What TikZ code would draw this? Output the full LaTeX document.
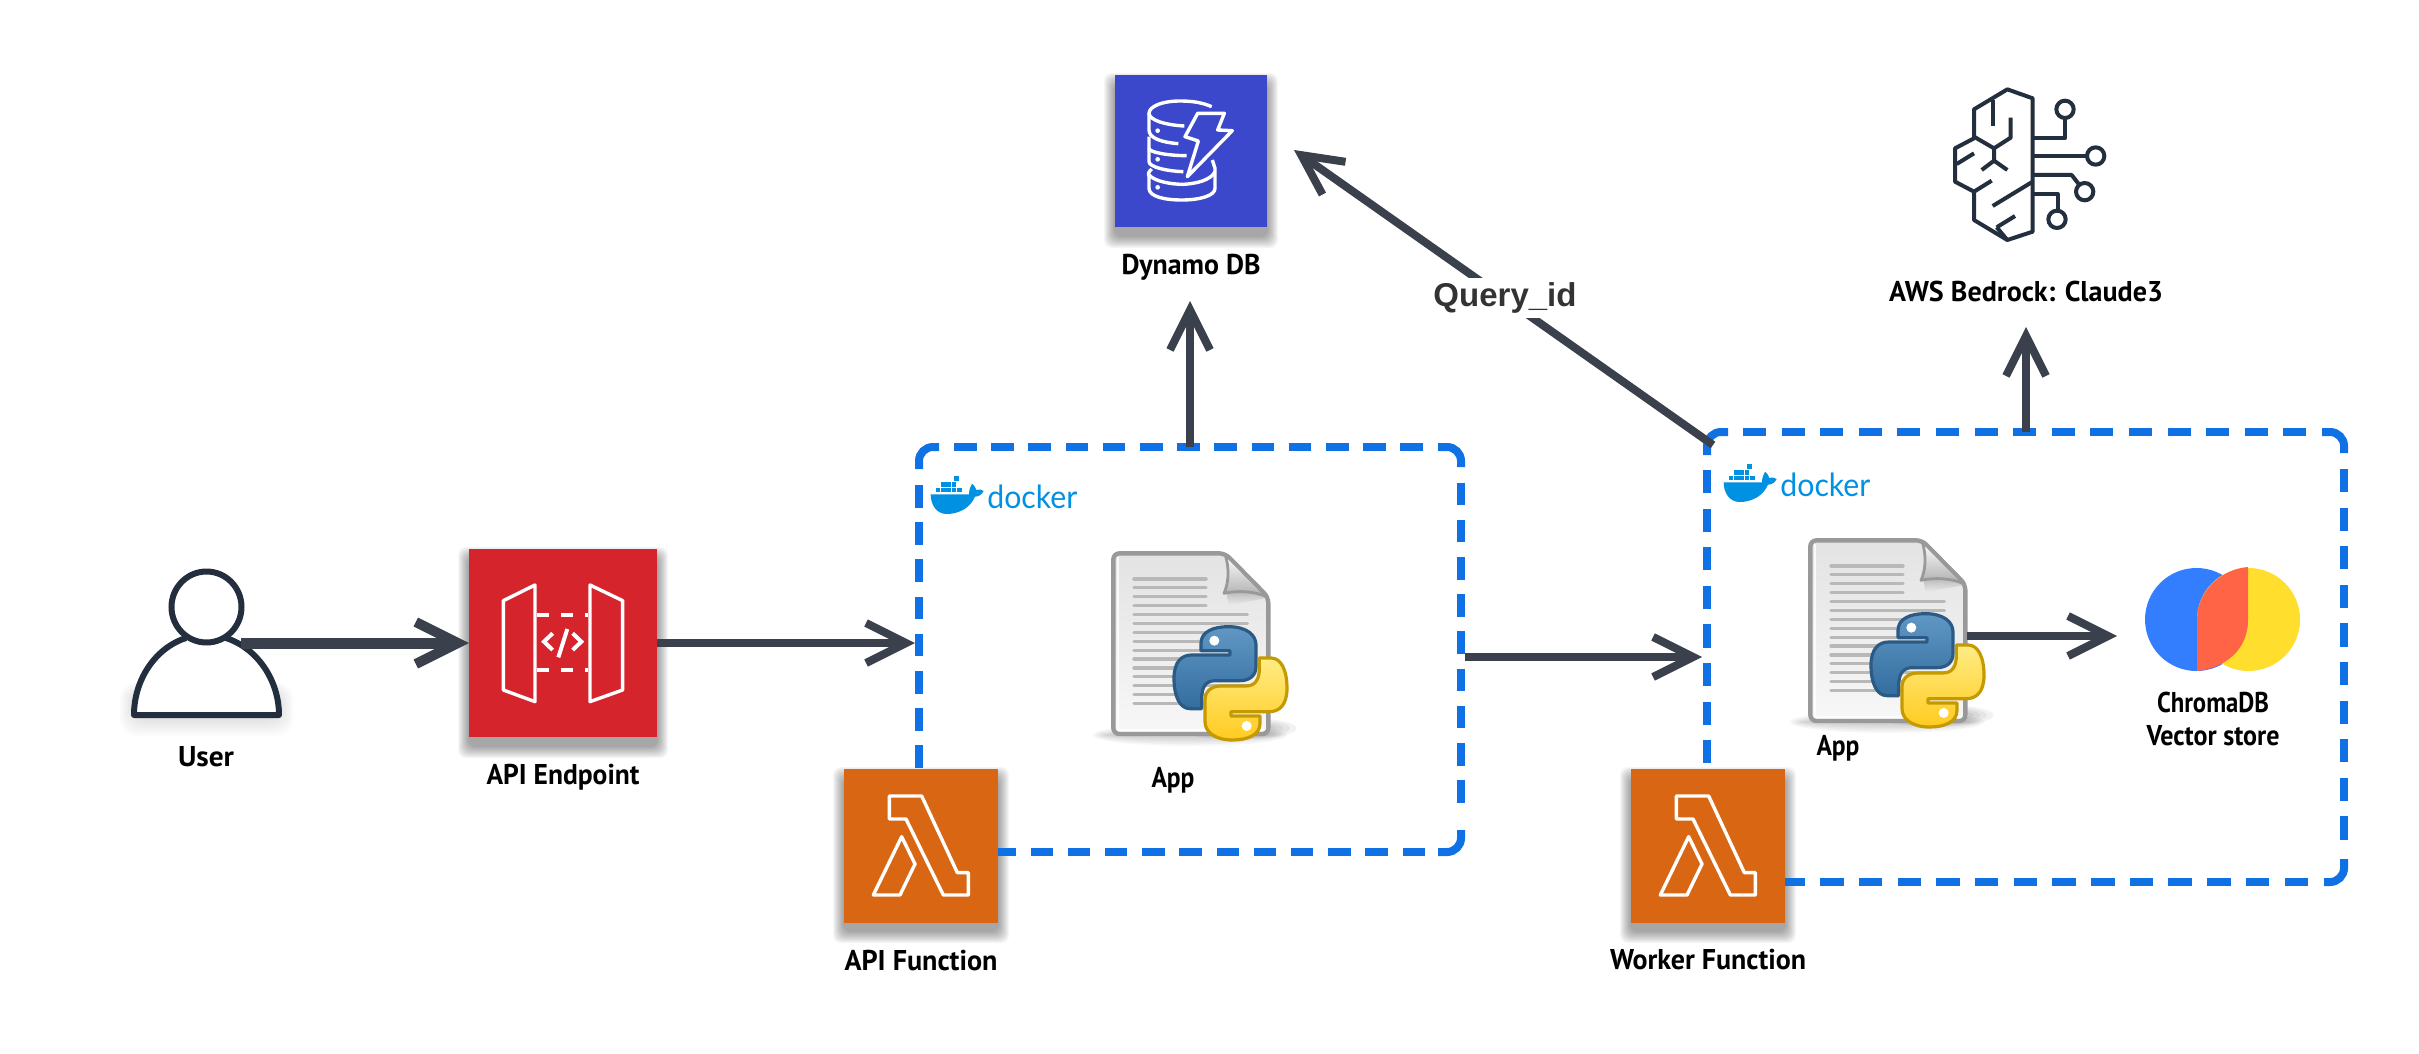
\documentclass[tikz,border=0pt]{standalone}
\usepackage{fontspec}
\usepackage{graphicx}
\setmainfont{PT Sans}
\newfontfamily\latofont{Lato}
\newfontfamily\qfont{Liberation Sans}
\usetikzlibrary{arrows.meta,calc}
\definecolor{linec}{HTML}{3A414C}
\definecolor{dashc}{HTML}{1071E5}
\definecolor{apired}{HTML}{D6242D}
\definecolor{lamorange}{HTML}{D86613}
\definecolor{dynblue}{HTML}{3B48CC}
\definecolor{inkc}{HTML}{232F3E}
\definecolor{dockc}{HTML}{0091E2}
\definecolor{chromaB}{HTML}{327EFF}
\definecolor{chromaY}{HTML}{FFDE2D}
\definecolor{chromaR}{HTML}{FF6446}
\definecolor{pyblueA}{HTML}{6097C4}
\definecolor{pyblueB}{HTML}{336E9F}
\definecolor{pyblueC}{HTML}{2B5B84}
\definecolor{pyyelA}{HTML}{FFEC85}
\definecolor{pyyelB}{HTML}{FFCB20}
\definecolor{pyyelC}{HTML}{C49A00}
\tikzset{
  arr/.style={line width=4pt,color=linec,-{Straight Barb[length=20pt,width=20pt,line width=4pt]}},
  arrthick/.style={line width=5.5pt,color=linec,-{Straight Barb[length=21pt,width=21pt,line width=5pt]}},
  framesolid/.style={draw=dashc,line width=4pt,rounded corners=7pt},
  dashone/.style={draw=dashc,line width=4pt,dash pattern=on 11.25pt off 7.35pt},
  dashtwo/.style={draw=dashc,line width=4pt,dash pattern=on 11.6pt off 7.7pt},
  awsbox/.style={inner sep=0pt,outer sep=0pt,draw=none},
  lab/.style={anchor=base,inner sep=0pt,text=black,font=\bfseries\fontsize{14.3}{15}\selectfont},
  glyph/.style={draw=white,line width=1.7pt,line join=round,line cap=round},
  brain/.style={draw=inkc,line width=2pt,line join=round,line cap=butt},
}
\newcommand{\softshadow}[4]{%
  \foreach \s in {1,2,...,11}{
    \fill[black,opacity=.035,rounded corners=4pt] ({#1-\s},{#2-\s+9}) rectangle ({#3+\s},{#4+1.1*\s+9});
  }}
\newcommand{\lab}[5]{\node[lab] (#1) at (#2,#3) {\resizebox{#4pt}{\height}{#5}};}
\newcommand{\lamicon}[2]{%
  \begin{scope}[shift={(#1,#2)},scale=.33333]
    \draw[glyph] (268,168)--(365,168)--(472,398)--(505,398)--(505,465)--(430,465)--(318,237)--(268,237)--cycle;
    \draw[glyph] (305,290)--(345,372)--(300,465)--(220,465)--cycle;
  \end{scope}}
\newcommand{\dockerlogo}[2]{%
  \begin{scope}[shift={(#1,#2)},scale=.33333]
    \fill[dockc] (17,73)--(132,73) .. controls (132,60) and (136,50) .. (141,41) .. controls (150,48) and (152,55) .. (154,60) .. controls (160,57) and (170,58) .. (176,63) .. controls (170,75) and (160,80) .. (150,80) .. controls (135,115) and (100,132) .. (65,132) .. controls (35,132) and (17,105) .. (17,73) -- cycle;
    \foreach \a in {32,48,64,80,96}{\fill[dockc] (\a,53) rectangle ++(14,14);}
    \foreach \a in {48,64,80}{\fill[dockc] (\a,36) rectangle ++(14,14);}
    \fill[dockc] (88,17) rectangle ++(15,15);
    \node[anchor=base west,inner sep=0pt,text=dockc] at (186,115) {\resizebox{45pt}{\height}{\latofont\fontsize{16}{16}\selectfont docker}};
  \end{scope}}
\newcommand{\pydoc}[2]{%
  \begin{scope}[shift={(#1,#2)},scale=.33333]
    \foreach \s in {1,...,6}{\fill[black,opacity=.03] (870,885) ellipse ({300-8*\s} and {38-5*\s});}
    \foreach \s in {1,...,5}{\fill[black,opacity=.05] (1010,865) ellipse ({200-20*\s} and {38-5*\s});}
    \shade[top color=black!11,bottom color=black!3,draw=black!40,line width=2.2pt,rounded corners=3pt,line join=round]
      (640,340)--(975,340)--(1105,472)--(1105,882)--(640,882)--cycle;
    \draw[white,opacity=.8,line width=1pt] (655,352)--(655,870)--(1092,870);
    \foreach \y in {417,443,469,497}{\draw[black!28,line width=1.7pt,line cap=round] (702,\y)--(918,\y);}
    \foreach \y in {523,550,577,604,631,657,684,710,737,763,790}{\draw[black!28,line width=1.7pt,line cap=round] (702,\y)--(1042,\y);}
    \shade[top color=black!28,bottom color=black!8] (980,462) .. controls (1030,452) and (1070,458) .. (1098,475) -- (985,495) -- cycle;
    \shade[top color=white,bottom color=black!32,draw=black!40,line width=1.4pt,line join=round]
      (975,342) .. controls (990,390) and (985,430) .. (972,460) .. controls (1020,450) and (1070,455) .. (1103,472) -- cycle;
    \shade[top color=pyblueA,bottom color=pyblueB,draw=pyblueC,line width=1.6pt,line join=round]
      (985,560) .. controls (1040,560) and (1068,585) .. (1068,615) -- (1068,680) .. controls (1068,705) and (1050,722) .. (1020,722) -- (945,722) .. controls (915,722) and (905,745) .. (905,775) -- (905,806) -- (870,806) .. controls (840,806) and (822,770) .. (822,715) .. controls (822,665) and (845,645) .. (875,645) -- (990,645) -- (990,632) -- (903,632) -- (903,610) .. controls (903,575) and (940,560) .. (985,560) -- cycle;
    \shade[top color=pyyelA,bottom color=pyyelB,draw=pyyelC,line width=1.6pt,line join=round]
      (998,900) .. controls (943,900) and (915,875) .. (915,845) -- (915,780) .. controls (915,755) and (933,738) .. (963,738) -- (1038,738) .. controls (1068,738) and (1078,715) .. (1078,685) -- (1078,654) -- (1113,654) .. controls (1143,654) and (1161,690) .. (1161,745) .. controls (1161,795) and (1138,815) .. (1108,815) -- (993,815) -- (993,828) -- (1080,828) -- (1080,850) .. controls (1080,885) and (1043,900) .. (998,900) -- cycle;
    \fill[white] (943,602) circle (15);
    \fill[white] (1040,858) circle (15);
  \end{scope}}
\begin{document}
\begin{tikzpicture}[x=0.5pt,y=-0.5pt]
\useasboundingbox (0,0) rectangle (2419,1054);
\fill[white] (0,0) rectangle (2419,1054);

% named end points
\coordinate (userout) at (241,643);
\coordinate (b1west) at (915,643);
\coordinate (b1top) at (1190,447);
\coordinate (dyntip) at (1190,301);
\coordinate (b1east) at (1465,657);
\coordinate (b2west) at (1702,657);
\coordinate (b2corner) at (1713,445);
\coordinate (qtip) at (1294,150);
\coordinate (b2top) at (2026,432);
\coordinate (bedtip) at (2026,327);
\coordinate (appout) at (1967,636);
\coordinate (chromatip) at (2117,636);

% shadows
\softshadow{469}{549}{657}{737}
\softshadow{844}{769}{998}{922}
\softshadow{1631}{769}{1785}{922}
\softshadow{1115}{75}{1267}{227}
\foreach \s in {1,...,7}{\fill[black,opacity=.014,rounded corners=8pt] ({134-2*\s},{690-\s}) rectangle ({279+2*\s},{718+2.5*\s});}
\fill[white] (206.5,607) ellipse (35 and 35.5);
\fill[white] (186,638) .. controls (155,648) and (134,680) .. (134,715) -- (279,715) .. controls (279,680) and (257,648) .. (226,638) -- cycle;

% container frame: left
\draw[framesolid] (919,469)--(919,447)--(939,447);
\draw[dashone] (954,447)--(1425,447);
\draw[framesolid] (1438,447)--(1461,447)--(1461,467);
\draw[dashone] (1461,482.6)--(1461,815);
\draw[framesolid] (1461,830)--(1461,852)--(1438,852);
\draw[dashone] (1425,852)--(990,852);
\draw[dashone] (919,485)--(919,780);
% container frame: right
\draw[framesolid] (1707,455)--(1707,432)--(1728,432);
\draw[dashtwo,dash pattern=on 11.5pt off 7.8pt] (1743,432)--(2306,432);
\draw[framesolid] (2322,432)--(2344,432)--(2344,453);
\draw[dashtwo] (2344,469)--(2344,843);
\draw[framesolid] (2344,859)--(2344,882)--(2324,882);
\draw[dashtwo,dash pattern=on 11.75pt off 7.6pt] (2308,882)--(1780,882);
\draw[dashtwo] (1707,470)--(1707,780);

% squares
\node[awsbox,fill=apired,minimum size=94pt] (api) at (563,643) {};
\node[awsbox,fill=lamorange,minimum size=77pt] (apifn) at (921,845.5) {};
\node[awsbox,fill=lamorange,minimum size=77pt] (workerfn) at (1708,845.5) {};
\node[awsbox,fill=dynblue,minimum size=76pt] (dynamo) at (1191,151) {};

% user icon
\draw[draw=inkc,line width=3pt] (206.5,607) ellipse (35 and 35.5);
\draw[draw=inkc,line width=3pt,line join=round] (186,638) .. controls (155,648) and (134,680) .. (134,715) -- (279,715) .. controls (279,680) and (257,648) .. (226,638);

% python documents, docker logos
\pydoc{900}{440}
\pydoc{1597}{427}
\dockerlogo{925}{470}
\dockerlogo{1718}{458}

% connectors
\draw[arrthick] (userout) -- (api.west);
\draw[arr] (api.east) -- (b1west);
\draw[arr] (b1top) -- (dyntip);
\draw[arr] (b1east) -- (b2west);
\draw[arr] (b2corner) -- (qtip);
\draw[arr] (b2top) -- (bedtip);
\draw[arr] (appout) -- (chromatip);

\node[fill=white,inner xsep=1pt,inner ysep=0pt,minimum height=20pt,text=black!80] (qlabel) at (1505,298) {\qfont\bfseries\fontsize{16.5}{18}\selectfont Query\_id};

% api gateway glyph
\begin{scope}[shift={(460,540)},scale=.33333]
  \draw[glyph] (130,182)--(225,135)--(225,485)--(130,450)--cycle;
  \draw[glyph] (390,135)--(488,182)--(488,450)--(390,485)--cycle;
  \draw[white,line width=2pt,dash pattern=on 6pt off 6pt] (232,226)--(384,226);
  \draw[white,line width=2pt,dash pattern=on 6pt off 6pt] (232,391)--(384,391);
  \draw[white,line width=2pt] (278,280)--(252,305)--(278,330);
  \draw[white,line width=2pt] (338,280)--(364,305)--(338,330);
  \draw[white,line width=2pt] (322,267)--(295,352);
\end{scope}

% lambda glyphs
\lamicon{800}{740}
\lamicon{1587}{740}

% dynamo glyph
\begin{scope}[shift={(1105,65)},scale=.33333]
  \draw[glyph,line cap=butt] (320,125) .. controls (290,112) and (260,108) .. (225,108) .. controls (170,108) and (132,125) .. (132,145) .. controls (132,165) and (180,180) .. (238,183);
  \draw[glyph,line cap=butt] (132,145) -- (132,195) .. controls (132,220) and (170,232) .. (220,236);
  \draw[glyph,line cap=butt] (132,215) -- (132,250) .. controls (132,262) and (190,272) .. (245,272);
  \draw[glyph,line cap=butt] (132,250) -- (132,290) .. controls (132,305) and (180,318) .. (235,320);
  \draw[glyph,line cap=butt] (140,312) .. controls (125,325) and (132,330) .. (132,335) -- (132,370) .. controls (132,395) and (180,405) .. (230,405) .. controls (285,405) and (330,392) .. (330,370) -- (330,310) -- (322,285);
  \draw[glyph,line cap=butt] (132,330) .. controls (150,350) and (200,358) .. (235,358) .. controls (275,356) and (318,345) .. (330,320);
  \draw[glyph] (278,145)--(358,145)--(338,195)--(382,197)--(247,335)--(280,228)--(240,215)--cycle;
  \fill[white] (158,197) circle (7);
  \fill[white] (158,283) circle (7);
  \fill[white] (158,367) circle (7);
\end{scope}

% bedrock glyph
\begin{scope}[shift={(1930,70)},scale=.33333]
  \draw[brain] (308,85)--(232,58)--(132,118)--(132,205)--(75,235)--(75,335)--(132,365)--(132,450)--(232,510)--(308,485)--cycle;
  \draw[brain] (190,90)--(190,168);
  \draw[brain] (242,143)--(242,203)--(192,235)--(132,200);
  \draw[brain] (192,235)--(192,272)--(155,300);
  \draw[brain] (192,272)--(232,300);
  \draw[brain] (80,282)--(132,250);
  \draw[brain] (132,365)--(185,332);
  \draw[brain] (188,408)--(308,335);
  \draw[brain] (200,472)--(255,438);
  \draw[brain] (200,472)--(232,510);
  \draw[brain] (308,205)--(405,205)--(405,145);
  \draw[brain] (405,118) circle (26);
  \draw[brain] (308,258)--(471,258);
  \draw[brain] (497,258) circle (26);
  \draw[brain] (308,315)--(425,315)--(446,342);
  \draw[brain] (464,365) circle (26);
  \draw[brain] (308,372)--(383,372)--(383,422);
  \draw[brain] (381,448) circle (26);
\end{scope}

% chroma
\fill[fill=chromaB] (2196.5,619.5) ellipse (51.5 and 51.5);
\fill[fill=chromaY] (2248.5,619.5) ellipse (51.5 and 51.5);
\fill[fill=chromaR] (2248,567) -- (2248,620) .. controls (2248,650) and (2225,668) .. (2197,671) -- (2197,620) .. controls (2197,590) and (2222,569) .. (2248,567) -- cycle;

% labels
\lab{luser}{206}{766}{28}{User}
\lab{lapi}{563}{784}{76.5}{API Endpoint}
\lab{lapifn}{921}{970}{76.5}{API Function}
\lab{lworker}{1708}{969}{98}{Worker Function}
\lab{ldyn}{1191}{274}{69.5}{Dynamo DB}
\lab{lbed}{2026}{301}{137}{AWS Bedrock: Claude3}
\lab{lapp}{1173}{787}{21.5}{App}
\lab{lapptwo}{1838}{755}{21.5}{App}
\lab{lchroma}{2213}{712}{56}{ChromaDB}
\lab{lvector}{2213}{745}{66.5}{Vector store}
\end{tikzpicture}
\end{document}
